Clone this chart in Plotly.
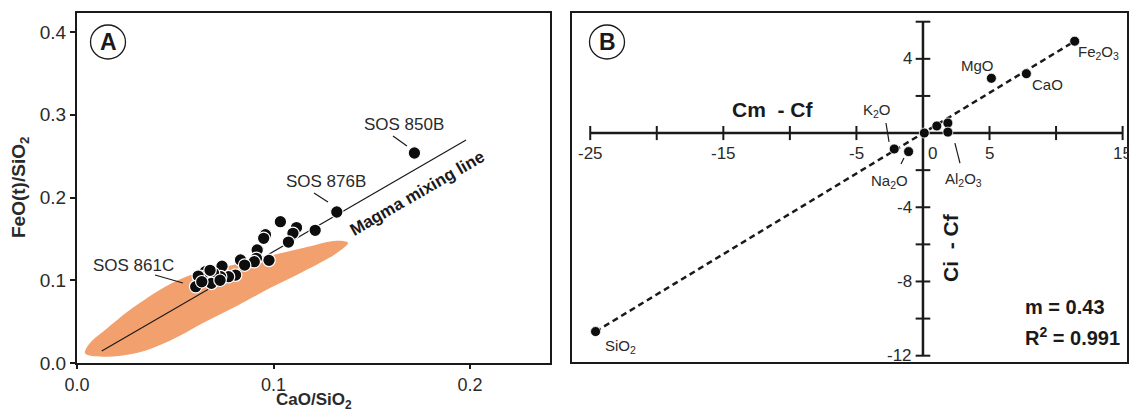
import plotly.graph_objects as go

# ---------------- data: panel A ----------------
A_X = [0.1717, 0.1322, 0.1212, 0.1117, 0.1099, 0.1076, 0.1035, 0.0959, 0.0950,
       0.0977, 0.0917, 0.0913, 0.0902, 0.0832, 0.0853, 0.0807, 0.0771, 0.0738,
       0.0731, 0.0695, 0.0684, 0.0653, 0.0635, 0.0617, 0.0604, 0.0635, 0.0728,
       0.0677]
A_Y = [0.2538, 0.1825, 0.1604, 0.1637, 0.1567, 0.1462, 0.1708, 0.1550, 0.1507,
       0.1241, 0.1366, 0.1265, 0.1224, 0.1245, 0.1184, 0.1063, 0.1043, 0.1169,
       0.1043, 0.1084, 0.0963, 0.1103, 0.1043, 0.1051, 0.0922, 0.0982, 0.1000,
       0.1120]

# field (orange ellipse) outline
ELL_X = [0.0041, 0.0066, 0.0132, 0.0304, 0.0539, 0.0813, 0.1150, 0.1322, 0.1379,
         0.1322, 0.1150, 0.0982, 0.0813, 0.0641, 0.0473, 0.0304, 0.0132, 0.0041]
ELL_Y = [0.0117, 0.0242, 0.0378, 0.0701, 0.1027, 0.1196, 0.1390, 0.1478, 0.1454,
         0.1329, 0.1103, 0.0906, 0.0689, 0.0483, 0.0269, 0.0121, 0.0076, 0.0117]

MIX_X = [0.0126, 0.1980]
MIX_Y = [0.0145, 0.2695]

A_LABELS = ["SOS 850B", "SOS 876B", "SOS 861C"]
A_LABEL_X = [0.1662, 0.1265, 0.0288]
A_LABEL_Y = [0.2888, 0.2199, 0.1184]
A_LEAD_X0 = [0.1608, 0.1206, 0.0397]
A_LEAD_Y0 = [0.2743, 0.2054, 0.1063]
A_LEAD_X1 = [0.1679, 0.1277, 0.0539]
A_LEAD_Y1 = [0.2622, 0.1946, 0.0967]

A_XTICKS = [0.0, 0.1, 0.2]
A_XTICKTEXT = ["0.0", "0.1", "0.2"]
A_YTICKS = [0.0, 0.1, 0.2, 0.3, 0.4]
A_YTICKTEXT = ["0.0", "0.1", "0.2", "0.3", "0.4"]

# ---------------- data: panel B ----------------
B_X = [-24.6, 11.4, 7.77, 5.14, -2.16, -1.08, 0.1, 1.04, 1.87, 1.87]
B_Y = [-10.7, 4.95, 3.2, 2.95, -0.86, -1.0, 0.0, 0.38, 0.54, 0.05]

B_LABELS = ["SiO<sub>2</sub>", "Fe<sub>2</sub>O<sub>3</sub>", "CaO", "MgO",
            "K<sub>2</sub>O", "Na<sub>2</sub>O", "Al<sub>2</sub>O<sub>3</sub>"]
B_LABEL_X = [-22.76, 13.2, 9.39, 4.06, -3.46, -2.48, 3.08]
B_LABEL_Y = [-11.48, 4.36, 2.59, 3.66, 1.19, -2.59, -2.53]
B_LEAD_X0 = [-2.78, -1.43, 2.40]
B_LEAD_Y0 = [0.54, -1.35, -0.54]
B_LEAD_X1 = [-2.55, -1.65, 2.78]
B_LEAD_Y1 = [-0.48, -1.67, -1.62]

B_XTICKS = [-25, -20, -15, -10, -5, 0, 5, 10, 15]
B_XLABELS = {-25: "-25", -15: "-15", -5: "-5", 5: "5", 15: "15"}
B_YTICKS = [-12, -10, -8, -6, -4, -2, 2, 4, 6]
B_YLABELS = {4: "4", -4: "-4", -8: "-8", -12: "-12"}
B_XLIM = [-25, 15]
B_YLIM = [-12, 6]

SLOPE_TEXT = "m = 0.43"
R2_TEXT = "R<sup>2</sup> = 0.991"

# ---------------- styling ----------------
W, H = 1129, 412
INK = "#1a1a1a"
TXT = "#2a2a2a"
ORANGE = "#F3A06F"
FN = "Liberation Sans Narrow, Arial Narrow, Liberation Sans, Arial, sans-serif"
FB = "Liberation Sans, Arial, sans-serif"

fig = go.Figure()

# ----- panel A -----
fig.add_trace(go.Scatter(x=ELL_X, y=ELL_Y, mode="lines", fill="toself",
                         fillcolor=ORANGE, line=dict(width=0, shape="spline", color=ORANGE),
                         hoverinfo="skip", showlegend=False, xaxis="x", yaxis="y"))
fig.add_trace(go.Scatter(x=MIX_X, y=MIX_Y, mode="lines", line=dict(color=INK, width=1.2),
                         showlegend=False, xaxis="x", yaxis="y"))
lx, ly = [], []
for i in range(len(A_LABELS)):
    lx += [A_LEAD_X0[i], A_LEAD_X1[i], None]
    ly += [A_LEAD_Y0[i], A_LEAD_Y1[i], None]
fig.add_trace(go.Scatter(x=lx, y=ly, mode="lines", line=dict(color=INK, width=1.2),
                         showlegend=False, xaxis="x", yaxis="y"))
fig.add_trace(go.Scatter(x=A_X, y=A_Y, mode="markers",
                         marker=dict(size=12.5, color="#0d0d0d", line=dict(color="white", width=1.2)),
                         showlegend=False, xaxis="x", yaxis="y"))

C = dict(xanchor="center", yanchor="middle", showarrow=False)
ann = []
for i, t in enumerate(A_LABELS):
    ann.append(dict(x=A_LABEL_X[i], y=A_LABEL_Y[i], xref="x", yref="y", text=t,
                    font=dict(family=FN, size=17, color=TXT), **C))
ann.append(dict(x=0.173, y=0.2054, xref="x", yref="y", text="<b>Magma mixing line</b>",
                textangle=-30, font=dict(family=FB, size=17, color=INK), **C))

# ----- panel B -----
fig.add_trace(go.Scatter(x=[B_XLIM[0], B_XLIM[1], None, 0, 0],
                         y=[0, 0, None, B_YLIM[0], B_YLIM[1]], mode="lines",
                         line=dict(color=INK, width=2.5), showlegend=False,
                         xaxis="x2", yaxis="y2", hoverinfo="skip"))
tx, ty = [], []
for v in B_XTICKS:
    tx += [v, v, None]
    ty += [-0.38, 0.38, None]
for v in B_YTICKS:
    tx += [-0.55, 0.55, None]
    ty += [v, v, None]
fig.add_trace(go.Scatter(x=tx, y=ty, mode="lines", line=dict(color=INK, width=2),
                         showlegend=False, xaxis="x2", yaxis="y2", hoverinfo="skip"))
fig.add_trace(go.Scatter(x=[B_X[0], B_X[1]], y=[B_Y[0], B_Y[1]], mode="lines",
                         line=dict(color=INK, width=2.5, dash="6px,4px"),
                         showlegend=False, xaxis="x2", yaxis="y2"))
bx, by = [], []
for i in range(len(B_LEAD_X0)):
    bx += [B_LEAD_X0[i], B_LEAD_X1[i], None]
    by += [B_LEAD_Y0[i], B_LEAD_Y1[i], None]
fig.add_trace(go.Scatter(x=bx, y=by, mode="lines", line=dict(color=INK, width=1.2),
                         showlegend=False, xaxis="x2", yaxis="y2"))
fig.add_trace(go.Scatter(x=B_X, y=B_Y, mode="markers",
                         marker=dict(size=10, color="#0d0d0d", line=dict(color="white", width=0.8)),
                         showlegend=False, xaxis="x2", yaxis="y2"))

for i, t in enumerate(B_LABELS):
    ann.append(dict(x=B_LABEL_X[i], y=B_LABEL_Y[i], xref="x2", yref="y2", text=t,
                    font=dict(family=FN, size=15, color=TXT), **C))
for v, t in B_XLABELS.items():
    ann.append(dict(x=v, y=0, xref="x2", yref="y2", text=t, yshift=-20,
                    font=dict(family=FN, size=17, color=TXT), **C))
ann.append(dict(x=0, y=0, xref="x2", yref="y2", text="0", xshift=10, yshift=-20,
                font=dict(family=FN, size=17, color=TXT), **C))
for v, t in B_YLABELS.items():
    ann.append(dict(x=0, y=v, xref="x2", yref="y2", text=t, xanchor="right", yanchor="middle",
                    showarrow=False, xshift=-9, font=dict(family=FN, size=17, color=TXT)))
ann.append(dict(x=-11.27, y=1.29, xref="x2", yref="y2", text="<b>Cm  - Cf</b>",
                font=dict(family=FB, size=21, color=INK), **C))
ann.append(dict(x=2.10, y=-6.14, xref="x2", yref="y2", text="<b>Ci  - Cf</b>",
                textangle=-90, font=dict(family=FB, size=21, color=INK), **C))
ann.append(dict(x=7.51, y=-9.375, xref="x2", yref="y2", text="<b>" + SLOPE_TEXT + "</b>",
                xanchor="left", yanchor="middle", showarrow=False,
                font=dict(family=FB, size=20, color=INK)))
ann.append(dict(x=7.51, y=-10.94, xref="x2", yref="y2", text="<b>" + R2_TEXT + "</b>",
                xanchor="left", yanchor="middle", showarrow=False,
                font=dict(family=FB, size=20, color=INK)))

# axis titles of panel A
ann.append(dict(x=313.5 / W, y=1 - 401 / H, xref="paper", yref="paper",
                text="<b>CaO/SiO<sub>2</sub></b>",
                font=dict(family=FB, size=17, color=TXT), **C))
ann.append(dict(x=20 / W, y=1 - 188 / H, xref="paper", yref="paper",
                text="<b>FeO(t)/SiO<sub>2</sub></b>", textangle=-90,
                font=dict(family=FB, size=19, color=TXT), **C))

# panel letters
shapes = []
for cx, cy, letter in [(108, 42, "A"), (607, 42, "B")]:
    shapes.append(dict(type="circle", xref="paper", yref="paper",
                       xsizemode="pixel", ysizemode="pixel",
                       xanchor=cx / W, yanchor=1 - cy / H,
                       x0=-17.5, x1=17.5, y0=-17, y1=17,
                       line=dict(color=INK, width=1.3), fillcolor="white", layer="above"))
    ann.append(dict(x=cx / W, y=1 - cy / H, xref="paper", yref="paper",
                    text="<b>" + letter + "</b>",
                    font=dict(family=FN, size=23, color=INK), **C))

axis_common = dict(showgrid=False, zeroline=False, showline=True, mirror=True,
                   linecolor=INK, linewidth=2, automargin=False)

fig.update_layout(
    width=W, height=H, margin=dict(l=0, r=0, t=0, b=0, pad=0, autoexpand=False),
    paper_bgcolor="white", plot_bgcolor="white", showlegend=False,
    xaxis=dict(domain=[77 / W, 550 / W], range=[0, 0.2407], tickvals=A_XTICKS,
               ticktext=A_XTICKTEXT, ticks="outside", ticklen=4, tickwidth=1.5,
               tickcolor=INK, tickfont=dict(family=FN, size=18, color=TXT),
               anchor="y", **axis_common),
    yaxis=dict(domain=[(H - 363) / H, (H - 13) / H], range=[0, 0.423], tickvals=A_YTICKS,
               ticktext=A_YTICKTEXT, ticks="outside", ticklen=5, tickwidth=1.5,
               tickcolor=INK, tickfont=dict(family=FN, size=19, color=TXT),
               anchor="x", **axis_common),
    xaxis2=dict(domain=[572 / W, 1127 / W], range=[-26.37, 15.33], showticklabels=False,
                ticks="", anchor="y2", **axis_common),
    yaxis2=dict(domain=[(H - 362) / H, (H - 13) / H], range=[-12.34, 6.47],
                showticklabels=False, ticks="", anchor="x2", **axis_common),
    annotations=ann, shapes=shapes,
)

# remove the browser's default 8px page margin so the figure fills the window exactly
fig.write_html("out.html", config={"displayModeBar": False},
               post_script="document.body.style.margin='0px';document.body.style.overflow='hidden';")
